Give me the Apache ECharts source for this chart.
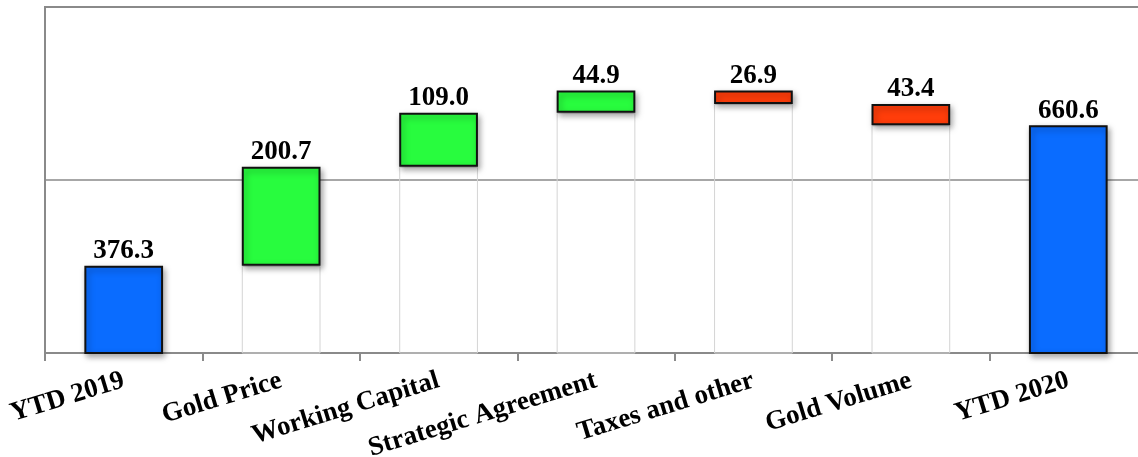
<!DOCTYPE html>
<html>
<head>
<meta charset="utf-8">
<script src="https://cdn.jsdelivr.net/npm/echarts@6/dist/echarts.min.js"></script>
<style>
  html, body { margin: 0; padding: 0; background: #ffffff; }
  #chart { width: 1138px; height: 457px; }
</style>
</head>
<body>
<div id="chart"></div>
<script>
// Waterfall: opening total, changes, closing total
const categories = ['YTD 2019', 'Gold Price', 'Working Capital', 'Strategic Agreement', 'Taxes and other', 'Gold Volume', 'YTD 2020'];
const openingTotal = 376.3;
const changes = [200.7, 109.0, 44.9, -26.9, -43.4];
const closingTotal = 660.6;

const BLUE = '#0a6cff';
const GREEN = '#28fc3e';
const RED = '#ff3d0a';

// Build the invisible base and visible bar heights for each step
const baseData = ['-'];
const barData = [{ value: openingTotal, itemStyle: { color: BLUE } }];
let running = openingTotal;
changes.forEach(function (d) {
  const next = running + d;
  baseData.push(Math.min(running, next));
  barData.push({ value: Math.abs(d), itemStyle: { color: d >= 0 ? GREEN : RED } });
  running = next;
});
baseData.push('-');
barData.push({ value: closingTotal, itemStyle: { color: BLUE } });

const serif = '"Liberation Serif", "Times New Roman", serif';

const chart = echarts.init(document.getElementById('chart'));
chart.setOption({
  animation: false,
  grid: {
    left: 45, top: 7, width: 1102, height: 346,
    containLabel: false, outerBoundsMode: 'none',
    show: true, borderColor: '#8a8a8a', borderWidth: 2
  },
  xAxis: {
    type: 'category',
    data: categories,
    axisLine: { lineStyle: { color: '#8a8a8a', width: 2 } },
    axisTick: { show: true, length: 8, lineStyle: { color: '#8a8a8a', width: 2 } },
    axisLabel: {
      rotate: 17, margin: 27, interval: 0,
      fontFamily: serif, fontWeight: 'bold', fontSize: 27, color: '#000'
    }
  },
  yAxis: {
    type: 'value',
    min: 200, max: 900, interval: 350,
    axisLine: { show: false },
    axisTick: { show: false },
    axisLabel: { show: false },
    splitLine: { show: true, lineStyle: { color: '#8a8a8a', width: 1.5 } }
  },
  series: [
    {
      type: 'bar',
      stack: 'w',
      data: baseData,
      barWidth: '50%',
      itemStyle: { color: 'rgba(0,0,0,0)', borderColor: '#d4d4d4', borderWidth: 1 },
      silent: true
    },
    {
      type: 'bar',
      stack: 'w',
      data: barData,
      barWidth: '50%',
      itemStyle: {
        borderColor: '#111', borderWidth: 2,
        shadowBlur: 6, shadowColor: 'rgba(0,0,0,0.35)', shadowOffsetX: 2, shadowOffsetY: 3
      },
      label: {
        show: true, position: 'top', distance: 1,
        fontFamily: serif, fontWeight: 'bold', fontSize: 27, color: '#000',
        formatter: function (p) { return p.value.toFixed(1); }
      }
    }
  ]
});
</script>
</body>
</html>
